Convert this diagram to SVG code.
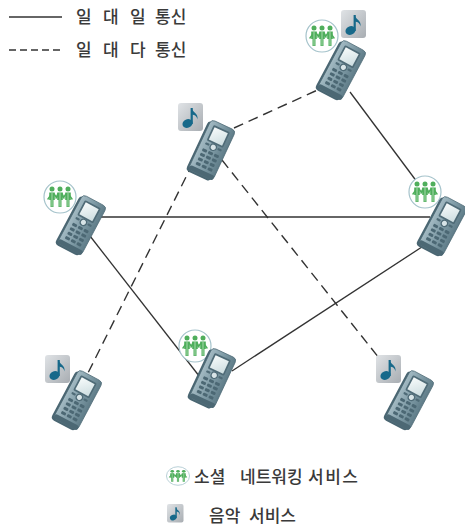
<svg xmlns="http://www.w3.org/2000/svg" xmlns:xlink="http://www.w3.org/1999/xlink" width="465" height="528" viewBox="0 0 465 528">
  <style>
    .solid { stroke: #333; stroke-width: 1.3; fill: none; }
    .dashed { stroke: #333; stroke-width: 1.4; fill: none; stroke-dasharray: 10 6; }
    .legend-dash { stroke: #333; stroke-width: 1.4; fill: none; stroke-dasharray: 7 4; }
    .label { font-family: "Noto Sans CJK KR", "Noto Sans", sans-serif; font-weight: 500; fill: #3a3a3a; }
  </style>
  <defs>
    <linearGradient id="bodyGrad" x1="0" y1="0" x2="1" y2="0">
      <stop offset="0" stop-color="#a3bac3"/>
      <stop offset="0.5" stop-color="#7f9ba6"/>
      <stop offset="1" stop-color="#5f7c88"/>
    </linearGradient>
    <linearGradient id="screenGrad" x1="0" y1="0" x2="1" y2="1">
      <stop offset="0" stop-color="#f7fbfb"/>
      <stop offset="1" stop-color="#cddde0"/>
    </linearGradient>
    <linearGradient id="tileGrad" x1="0" y1="0" x2="1" y2="1">
      <stop offset="0" stop-color="#e0e3e6"/>
      <stop offset="1" stop-color="#a8adb2"/>
    </linearGradient>

    <!-- handset, drawn upright around its centre -->
    <g id="phone">
      <rect x="-15.5" y="-25.5" width="27" height="55" rx="4" fill="#4a6672"/>
      <rect x="-13.5" y="-27.5" width="27" height="55" rx="4" fill="url(#bodyGrad)" stroke="#4d6975" stroke-width="0.7"/>
      <rect x="-9" y="-23.5" width="18" height="17" rx="1.5" fill="#4f6b77"/>
      <rect x="-7.3" y="-21.8" width="14.6" height="13.6" fill="url(#screenGrad)"/>
      <rect x="-9" y="-4.5" width="4.5" height="2.2" rx="1" fill="#4f6b77"/>
      <rect x="4.5" y="-4.5" width="4.5" height="2.2" rx="1" fill="#4f6b77"/>
      <circle cx="0" cy="-3" r="3.2" fill="#d8e4e7" stroke="#4f6b77" stroke-width="1.2"/>
      <g fill="#4c6874">
        <rect x="-9" y="2" width="5" height="3" rx="1"/>
        <rect x="-2.5" y="2" width="5" height="3" rx="1"/>
        <rect x="4" y="2" width="5" height="3" rx="1"/>
        <rect x="-9" y="7" width="5" height="3" rx="1"/>
        <rect x="-2.5" y="7" width="5" height="3" rx="1"/>
        <rect x="4" y="7" width="5" height="3" rx="1"/>
        <rect x="-9" y="12" width="5" height="3" rx="1"/>
        <rect x="-2.5" y="12" width="5" height="3" rx="1"/>
        <rect x="4" y="12" width="5" height="3" rx="1"/>
        <rect x="-9" y="17" width="5" height="3" rx="1"/>
        <rect x="-2.5" y="17" width="5" height="3" rx="1"/>
        <rect x="4" y="17" width="5" height="3" rx="1"/>
      </g>
      <rect x="-13.5" y="22.5" width="27" height="5" rx="2.5" fill="#4c6874"/>
    </g>

    <!-- one figure of the social networking badge -->
    <g id="person">
      <circle cx="0" cy="-8" r="2.5" fill="#4fae5c"/>
      <path d="M-2.8,-4.6 H2.8 V3 H1.5 V10 H-1.5 V3 H-2.8 Z" fill="#4fae5c"/>
      <path d="M0,-4 V9.5" stroke="#b2e0b6" stroke-width="0.9"/>
    </g>
    <g id="social">
      <circle cx="0" cy="0" r="16" fill="#ffffff" stroke="#a5c3cb" stroke-width="1.2"/>
      <path d="M-12,2 L-8,-3.5 M-4,1 L-2,-3.5 M2,-3.5 L4,1 M8,-3.5 L12,2 M-6,-3 L-3.5,0.5 L-1,-3 M1,-3 L3.5,0.5 L6,-3" fill="none" stroke="#4fae5c" stroke-width="1.5" stroke-linecap="round"/>
      <use xlink:href="#person" x="-8" y="0"/>
      <use xlink:href="#person" x="0" y="0"/>
      <use xlink:href="#person" x="8" y="0"/>
    </g>

    <!-- music service tile -->
    <g id="music">
      <rect x="0" y="0" width="25" height="28" rx="3" fill="url(#tileGrad)"/>
      <ellipse cx="9.5" cy="20.5" rx="5.2" ry="4.2" transform="rotate(-25 9.5 20.5)" fill="#17698a"/>
      <rect x="12.6" y="5" width="2.2" height="16" fill="#17698a"/>
      <path d="M13.5,5 C14.5,9.5 20.5,10 19.5,16.5 C18.8,13 16.5,11.8 14,11.5 Z" fill="#17698a"/>
    </g>
  </defs>

  <!-- legend: link types -->
  <g id="legend-links">
    <line x1="9" y1="17" x2="62" y2="17" class="solid"/>
    <text class="label" font-size="17" y="23"><tspan x="76">일</tspan><tspan x="103">대</tspan><tspan x="130">일</tspan><tspan x="155">통신</tspan></text>
    <line x1="9" y1="50" x2="63" y2="50" class="legend-dash"/>
    <text class="label" font-size="17" y="56"><tspan x="76">일</tspan><tspan x="103">대</tspan><tspan x="130">다</tspan><tspan x="155">통신</tspan></text>
  </g>

  <!-- connectors -->
  <g id="connectors">
    <line x1="350" y1="92" x2="432" y2="202" class="solid"/>
    <line x1="92" y1="217" x2="430" y2="217" class="solid"/>
    <line x1="90" y1="236" x2="203" y2="381" class="solid"/>
    <line x1="232" y1="371" x2="428" y2="243" class="solid"/>
    <line x1="234" y1="128" x2="322" y2="88" class="dashed"/>
    <line x1="193" y1="163" x2="88" y2="373" class="dashed"/>
    <line x1="222" y1="160" x2="379" y2="358" class="dashed"/>
  </g>

  <!-- handsets -->
  <g id="phone-top-right">
    <use xlink:href="#social" x="322" y="36"/>
    <use xlink:href="#music" x="341" y="10"/>
    <use xlink:href="#phone" transform="translate(342 70) rotate(28)"/>
  </g>
  <g id="phone-top-middle">
    <use xlink:href="#music" x="178" y="103"/>
    <use xlink:href="#phone" transform="translate(212 150) rotate(25)"/>
  </g>
  <g id="phone-left">
    <use xlink:href="#social" x="60" y="197"/>
    <use xlink:href="#phone" transform="translate(82 225) rotate(28)"/>
  </g>
  <g id="phone-right">
    <use xlink:href="#social" x="425" y="192"/>
    <use xlink:href="#phone" transform="translate(443 226) rotate(28)"/>
  </g>
  <g id="phone-bottom-middle">
    <use xlink:href="#social" x="195" y="346"/>
    <use xlink:href="#phone" transform="translate(213 378) rotate(25)"/>
  </g>
  <g id="phone-bottom-left">
    <use xlink:href="#music" x="45" y="355"/>
    <use xlink:href="#phone" transform="translate(78 400) rotate(28)"/>
  </g>
  <g id="phone-bottom-right">
    <use xlink:href="#music" x="376" y="355"/>
    <use xlink:href="#phone" transform="translate(410 400) rotate(28)"/>
  </g>

  <!-- legend: services -->
  <g id="legend-services">
    <use xlink:href="#social" transform="translate(178 476) scale(0.72 0.58)"/>
    <text class="label" font-size="17" y="483"><tspan x="194">소셜</tspan><tspan x="240">네트워킹</tspan><tspan x="308" letter-spacing="1.5">서비스</tspan></text>
    <use xlink:href="#music" transform="translate(167 504) scale(0.66)"/>
    <text class="label" font-size="17" y="522"><tspan x="209">음악</tspan><tspan x="249">서비스</tspan></text>
  </g>
</svg>
